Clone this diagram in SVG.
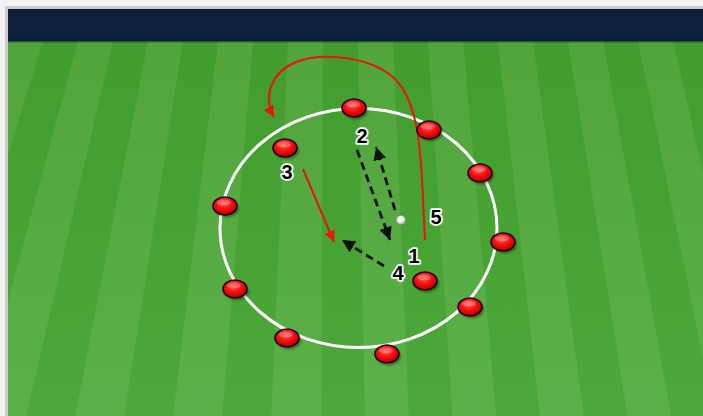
<svg xmlns="http://www.w3.org/2000/svg" width="703" height="416" viewBox="0 0 703 416">
  <style>
    .lbl { font-family: "Liberation Sans", Arial, sans-serif; font-weight: bold; font-size: 20px; fill: #000; stroke: #fff; stroke-width: 3.5px; paint-order: stroke; stroke-linejoin: round; text-anchor: middle; }
    .dash { fill: none; stroke: #111; stroke-width: 2.8; stroke-dasharray: 8 5; }
    .red { fill: none; stroke: #e8160c; stroke-width: 2; }
    .pl { fill: url(#pgrad); stroke: #240202; stroke-width: 1.6; }
    .sh { fill: #000; opacity: 0.35; filter: url(#blur); }
    .hl { fill: #fff; opacity: 0.25; }
    .dark { fill: url(#dgrad); }
  </style>
  <defs>
    <linearGradient id="lgrad" x1="0" y1="41" x2="0" y2="416" gradientUnits="userSpaceOnUse">
      <stop offset="0" stop-color="#51a53b"/>
      <stop offset="1" stop-color="#5bb049"/>
    </linearGradient>
    <linearGradient id="dgrad" x1="0" y1="41" x2="0" y2="416" gradientUnits="userSpaceOnUse">
      <stop offset="0" stop-color="#429d2e"/>
      <stop offset="1" stop-color="#4ca83a"/>
    </linearGradient>
    <linearGradient id="navy" x1="0" y1="10" x2="0" y2="41" gradientUnits="userSpaceOnUse">
      <stop offset="0" stop-color="#0f1e37"/>
      <stop offset="0.8" stop-color="#0f2142"/>
      <stop offset="1" stop-color="#0c1a30"/>
    </linearGradient>
    <radialGradient id="pgrad" cx="0.45" cy="0.35" r="0.65">
      <stop offset="0" stop-color="#ff4d4d"/>
      <stop offset="0.6" stop-color="#f00808"/>
      <stop offset="1" stop-color="#b00000"/>
    </radialGradient>
    <radialGradient id="ball" cx="0.4" cy="0.35" r="0.7">
      <stop offset="0" stop-color="#ffffff"/>
      <stop offset="0.6" stop-color="#e6e6e6"/>
      <stop offset="1" stop-color="#9a9a9a"/>
    </radialGradient>
    <filter id="blur" x="-50%" y="-50%" width="200%" height="200%">
      <feGaussianBlur stdDeviation="1.2"/>
    </filter>
    <clipPath id="field">
      <rect x="8" y="41" width="695" height="375"/>
    </clipPath>
    <marker id="ahB" markerUnits="userSpaceOnUse" markerWidth="15" markerHeight="13" refX="13" refY="6.5" orient="auto">
      <path d="M0,0 L13,6.5 L0,13 Z" fill="#111"/>
    </marker>
    <marker id="ahR" markerUnits="userSpaceOnUse" markerWidth="13" markerHeight="11" refX="11" refY="5.5" orient="auto">
      <path d="M0,0 L11,5.5 L0,11 Z" fill="#e8160c"/>
    </marker>
  </defs>

  <!-- frame -->
  <rect x="0" y="0" width="703" height="416" fill="#f3f3f3"/>
  <rect x="5" y="6" width="698" height="410" fill="#cccccc"/>
  <rect x="8" y="9" width="695" height="407" fill="url(#navy)"/>

  <!-- pitch -->
  <g id="pitch" clip-path="url(#field)">
    <rect x="8" y="41" width="695" height="375" fill="url(#lgrad)"/>
    <polygon class="dark" points="-27,41 8,41 -120.8,416 -169.8,416"/>
    <polygon class="dark" points="43,41 78,41 -22.8,416 -71.8,416"/>
    <polygon class="dark" points="113,41 148,41 75.2,416 26.2,416"/>
    <polygon class="dark" points="183,41 218,41 173.2,416 124.2,416"/>
    <polygon class="dark" points="253,41 288,41 271.2,416 222.2,416"/>
    <polygon class="dark" points="323,41 358,41 365,416 321.2,416"/>
    <polygon class="dark" points="393,41 428,41 452.5,416 408.8,416"/>
    <polygon class="dark" points="463,41 498,41 540,416 496.2,416"/>
    <polygon class="dark" points="533,41 568,41 627.5,416 583.8,416"/>
    <polygon class="dark" points="603,41 638,41 715,416 671.2,416"/>
    <polygon class="dark" points="673,41 708,41 802.5,416 758.8,416"/>
    <rect x="8" y="41" width="695" height="1.5" fill="#0c1a30" opacity="0.5"/>
  </g>

  <!-- circle -->
  <ellipse id="circle" cx="358.5" cy="228" rx="138.5" ry="119.5" fill="none" stroke="#fff" stroke-width="3"/>

  <!-- connectors -->
  <g id="connectors">
    <path id="run5" class="red" d="M425,240 C421,175 424,110 396,80 C372,56 322,52 296,62 C272,72 262,96 274,117" marker-end="url(#ahR)"/>
    <path id="run3" class="red" d="M303,169 L334,242" marker-end="url(#ahR)"/>
    <path id="pass2" class="dash" d="M357,150 L390,240" marker-end="url(#ahB)"/>
    <path id="pass1" class="dash" d="M395,210 L376,147" marker-end="url(#ahB)"/>
    <path id="pass4" class="dash" d="M384,266 L342,240" marker-end="url(#ahB)"/>
  </g>

  <!-- ball -->
  <g id="ball-node">
    <circle cx="401" cy="220" r="4.6" fill="url(#ball)" stroke="#8a8a8a" stroke-width="0.6"/>
  </g>

  <!-- players -->
  <g id="p-top"><ellipse class="sh" cx="356" cy="110.5" rx="12" ry="9"/><ellipse class="pl" cx="354" cy="108" rx="12" ry="9"/><ellipse class="hl" cx="353" cy="104.5" rx="7" ry="3"/></g>
  <g id="p-tr1"><ellipse class="sh" cx="431" cy="132.5" rx="12" ry="9"/><ellipse class="pl" cx="429" cy="130" rx="12" ry="9"/><ellipse class="hl" cx="428" cy="126.5" rx="7" ry="3"/></g>
  <g id="p-tr2"><ellipse class="sh" cx="482" cy="175.5" rx="12" ry="9"/><ellipse class="pl" cx="480" cy="173" rx="12" ry="9"/><ellipse class="hl" cx="479" cy="169.5" rx="7" ry="3"/></g>
  <g id="p-right"><ellipse class="sh" cx="505" cy="244.5" rx="12" ry="9"/><ellipse class="pl" cx="503" cy="242" rx="12" ry="9"/><ellipse class="hl" cx="502" cy="238.5" rx="7" ry="3"/></g>
  <g id="p-br"><ellipse class="sh" cx="472" cy="309.5" rx="12" ry="9"/><ellipse class="pl" cx="470" cy="307" rx="12" ry="9"/><ellipse class="hl" cx="469" cy="303.5" rx="7" ry="3"/></g>
  <g id="p-bottom"><ellipse class="sh" cx="389" cy="356.5" rx="12" ry="9"/><ellipse class="pl" cx="387" cy="354" rx="12" ry="9"/><ellipse class="hl" cx="386" cy="350.5" rx="7" ry="3"/></g>
  <g id="p-bl1"><ellipse class="sh" cx="289" cy="340.5" rx="12" ry="9"/><ellipse class="pl" cx="287" cy="338" rx="12" ry="9"/><ellipse class="hl" cx="286" cy="334.5" rx="7" ry="3"/></g>
  <g id="p-bl2"><ellipse class="sh" cx="237" cy="291.5" rx="12" ry="9"/><ellipse class="pl" cx="235" cy="289" rx="12" ry="9"/><ellipse class="hl" cx="234" cy="285.5" rx="7" ry="3"/></g>
  <g id="p-left"><ellipse class="sh" cx="227" cy="208.5" rx="12" ry="9"/><ellipse class="pl" cx="225" cy="206" rx="12" ry="9"/><ellipse class="hl" cx="224" cy="202.5" rx="7" ry="3"/></g>
  <g id="p-3"><ellipse class="sh" cx="287" cy="150.5" rx="12" ry="9"/><ellipse class="pl" cx="285" cy="148" rx="12" ry="9"/><ellipse class="hl" cx="284" cy="144.5" rx="7" ry="3"/></g>
  <g id="p-1"><ellipse class="sh" cx="427" cy="283.5" rx="12" ry="9"/><ellipse class="pl" cx="425" cy="281" rx="12" ry="9"/><ellipse class="hl" cx="424" cy="277.5" rx="7" ry="3"/></g>

  <!-- labels -->
  <g id="labels">
    <text class="lbl" x="362" y="143">2</text>
    <text class="lbl" x="287" y="179">3</text>
    <text class="lbl" x="436" y="224">5</text>
    <text class="lbl" x="414" y="263">1</text>
    <text class="lbl" x="398" y="280">4</text>
  </g>
</svg>
